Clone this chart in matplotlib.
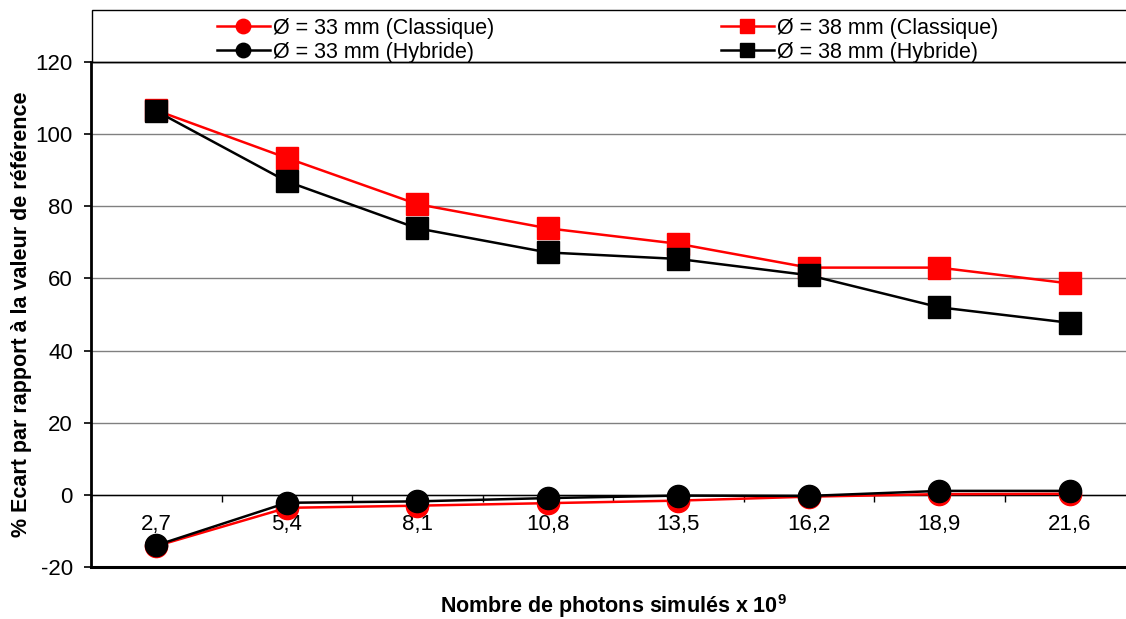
import matplotlib
matplotlib.use("Agg")
import matplotlib.pyplot as plt
from matplotlib.patches import Rectangle

plt.rcParams["font.family"] = ["Liberation Sans", "DejaVu Sans"]
plt.rcParams["axes.unicode_minus"] = False
plt.rcParams["mathtext.fontset"] = "custom"
plt.rcParams["mathtext.rm"] = "Liberation Sans"
plt.rcParams["mathtext.bf"] = "Liberation Sans:bold"

photons = ["2,7", "5,4", "8,1", "10,8", "13,5", "16,2", "18,9", "21,6"]

d33_classique = [-14.2, -3.6, -3.0, -2.3, -1.6, -0.5, 0.2, 0.3]
d38_classique = [106.6, 93.4, 80.6, 73.9, 69.6, 63.0, 63.0, 58.6]
d33_hybride = [-14.0, -2.2, -1.8, -0.9, -0.2, -0.3, 1.1, 1.1]
d38_hybride = [106.4, 86.9, 73.9, 67.2, 65.4, 60.9, 52.0, 47.7]

W, H = 1126, 619
fig = plt.figure(figsize=(W / 100, H / 100), dpi=100)
ax = fig.add_axes([91 / W, 1 - 567 / H, 1044 / W, 505 / H])

x = list(range(len(photons)))

l1, = ax.plot(x, d33_classique, color="red", marker="o", markersize=16,
              linewidth=1.8, label="Ø = 33 mm (Classique)", clip_on=False, zorder=3)
l3, = ax.plot(x, d38_classique, color="red", marker="s", markersize=15.5,
              linewidth=1.8, label="Ø = 38 mm (Classique)", clip_on=False, zorder=3)
l2, = ax.plot(x, d33_hybride, color="black", marker="o", markersize=16,
              linewidth=1.8, label="Ø = 33 mm (Hybride)", clip_on=False, zorder=4)
l4, = ax.plot(x, d38_hybride, color="black", marker="s", markersize=15.5,
              linewidth=1.8, label="Ø = 38 mm (Hybride)", clip_on=False, zorder=4)

ax.set_xlim(-0.5, len(photons) - 0.5)
ax.set_ylim(-20, 120)
ax.set_yticks(range(-20, 121, 20))
ax.yaxis.grid(True, color="#808080", linewidth=1)
ax.set_axisbelow(True)
ax.tick_params(axis="y", labelsize=16, length=5, width=1.2, direction="out", pad=8)

# category labels at the centers, tick marks on the boundaries
ax.set_xticks(x)
ax.set_xticklabels(photons)
ax.set_xticks([i - 0.5 for i in range(len(photons) + 1)], minor=True)
ax.tick_params(axis="x", which="major", length=0, labelsize=16, pad=14)
ax.tick_params(axis="x", which="minor", length=5, width=1, direction="out")

ax.spines["bottom"].set_position(("data", 0))
ax.spines["bottom"].set_linewidth(1)
ax.spines["left"].set_linewidth(2)
ax.spines["top"].set_linewidth(1)
ax.spines["right"].set_visible(False)
ax.axhline(-20, color="black", linewidth=2.2, clip_on=False, zorder=5)

ax.set_ylabel("% Ecart par rapport à la valeur de référence", fontsize=15.5,
              fontweight="bold", labelpad=3)
fig.text(613 / W, 1 - 606 / H, r"Nombre de photons simulés x 10$^{\mathbf{9}}$",
         ha="center", va="center", fontsize=15.5, fontweight="bold")

# legend box above the plot
fig.patches.append(Rectangle((92 / W, 1 - 62 / H), 1.0, 52 / H, transform=fig.transFigure,
                             fill=False, edgecolor="black", linewidth=1))
fig.legend(handles=[l1, l2, l3, l4], ncol=2, loc="upper left",
           bbox_to_anchor=(206 / W, 1 - 7 / H), frameon=False, fontsize=15.5,
           borderpad=0, handlelength=2.45, handletextpad=0.15, columnspacing=10.55,
           labelspacing=0.15, markerscale=0.65)

fig.savefig("out.png", dpi=100)
